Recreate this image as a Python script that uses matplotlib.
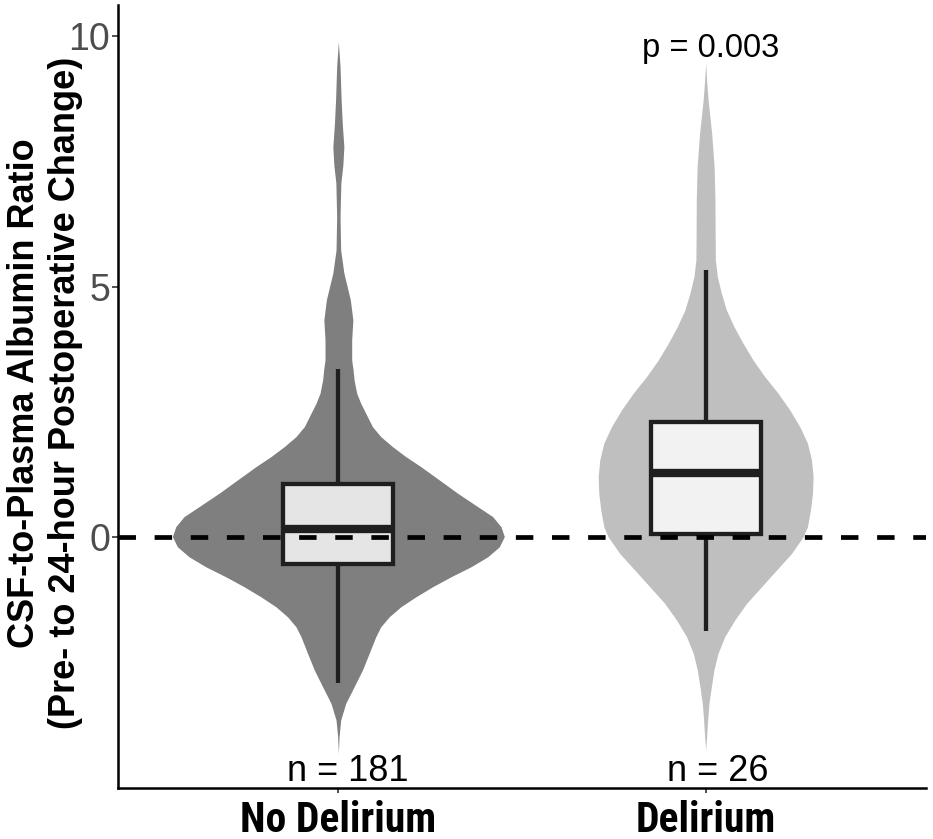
import matplotlib
matplotlib.use("Agg")
import matplotlib.pyplot as plt
import numpy as np

# ---------------- data ----------------
categories = ["No Delirium", "Delirium"]
n_labels = ["n = 181", "n = 26"]
p_label = "p = 0.003"
y_ticks = [0, 5, 10]

# box statistics
q1 = [-0.53, 0.06]
median = [0.17, 1.29]
q3 = [1.06, 2.30]
whisker_low = [-2.91, -1.88]
whisker_high = [3.36, 5.33]

# violin outlines: y value and half-width (in category-axis units)
violin1_y = [9.886, 9.388, 8.723, 8.225, 7.792, 7.427, 7.068, 6.389, 5.731, 5.272,
             4.734, 4.335, 3.936, 3.537, 3.337, 3.138, 2.873, 2.673, 2.474, 2.206,
             2.007, 1.807, 1.608, 1.408, 1.143, 0.878, 0.610, 0.411, 0.211, 0.012,
             -0.193, -0.393, -0.592, -0.792, -0.991, -1.191, -1.390, -1.590, -1.789,
             -1.989, -2.322, -2.653, -2.986, -3.319, -3.651, -3.984, -4.317]
violin1_hw = [0.0, 0.0046, 0.0076, 0.0109, 0.0150, 0.0123, 0.0068, 0.0046, 0.0063,
              0.0150, 0.0327, 0.0395, 0.0363, 0.0363, 0.0401, 0.0428, 0.0499, 0.0608,
              0.0744, 0.0927, 0.1154, 0.1473, 0.1835, 0.2244, 0.2746, 0.3245, 0.3791,
              0.4200, 0.4426, 0.4519, 0.4382, 0.4063, 0.3608, 0.3062, 0.2563, 0.2108,
              0.1699, 0.1383, 0.1154, 0.1017, 0.0837, 0.0654, 0.0428, 0.0199, 0.0063,
              0.0019, 0.0]

violin2_y = [9.461, 9.122, 8.723, 8.065, 7.387, 6.729, 6.070, 5.532, 5.198, 4.867,
             4.534, 4.201, 3.870, 3.537, 3.204, 2.873, 2.539, 2.206, 1.875, 1.542,
             1.209, 0.878, 0.545, 0.211, 0.006, -0.327, -0.658, -0.991, -1.325,
             -1.656, -1.989, -2.322, -2.653, -2.986, -3.319, -3.651, -3.984, -4.249]
violin2_hw = [0.0, 0.0027, 0.0068, 0.0164, 0.0232, 0.0254, 0.0259, 0.0265, 0.0319,
              0.0428, 0.0565, 0.0772, 0.1017, 0.1290, 0.1609, 0.1972, 0.2291, 0.2563,
              0.2773, 0.2882, 0.2926, 0.2910, 0.2855, 0.2773, 0.2653, 0.2337, 0.1928,
              0.1519, 0.1110, 0.0791, 0.0518, 0.0335, 0.0226, 0.0155, 0.0090, 0.0055,
              0.0027, 0.0]

violin_colors = ["#7f7f7f", "#bfbfbf"]
box_colors = ["#e5e5e5", "#f2f2f2"]
edge = "#1f1f1f"

# ---------------- figure ----------------
fig = plt.figure(figsize=(9.33, 8.39), dpi=100)
ax = fig.add_axes([0.12647, 0.06114, 0.86602, 0.93290])

positions = [1, 2]
violins = [(violin1_y, violin1_hw), (violin2_y, violin2_hw)]
for pos, (vy, vhw), col in zip(positions, violins, violin_colors):
    vy = np.asarray(vy)
    vhw = np.asarray(vhw)
    ax.fill_betweenx(vy, pos - vhw, pos + vhw, color=col, lw=0, zorder=1)

stats = []
for i in range(2):
    stats.append(dict(med=median[i], q1=q1[i], q3=q3[i],
                      whislo=whisker_low[i], whishi=whisker_high[i], fliers=[]))
bp = ax.bxp(stats, positions=positions, widths=0.3, patch_artist=True,
            showcaps=False, showfliers=False,
            boxprops=dict(linewidth=3.1, edgecolor=edge, joinstyle="miter"),
            medianprops=dict(linewidth=6.0, color=edge, solid_capstyle="butt"),
            whiskerprops=dict(linewidth=3.1, color=edge, solid_capstyle="butt"),
            zorder=2)
for patch, fc in zip(bp["boxes"], box_colors):
    patch.set_facecolor(fc)

ax.axhline(0, color="black", lw=3.4, linestyle=(0, (3.7, 3.95)), zorder=5)

ax.set_xlim(0.4, 2.6)
ax.set_ylim(-5.0, 10.62)
ax.set_yticks(y_ticks)
ax.set_yticklabels([str(t) for t in y_ticks], fontfamily="Liberation Sans",
                   fontsize=27, color="#4d4d4d")
ax.set_xticks(positions)
ax.set_xticklabels(categories, fontfamily="Roboto Condensed",
                   fontweight="bold", fontsize=30, color="black")
ax.tick_params(axis="y", length=4.3, width=1.2, color="#333333", pad=1.5)
ax.tick_params(axis="x", length=3.6, width=1.2, color="#333333", pad=5.0)

for s in ["top", "right"]:
    ax.spines[s].set_visible(False)
for s in ["left", "bottom"]:
    ax.spines[s].set_linewidth(1.8)
    ax.spines[s].set_color("black")

# n labels and p value
n_x = [1.025, 2.032]
for x, lab in zip(n_x, n_labels):
    ax.text(x, -4.876, lab, ha="center", va="baseline",
            fontfamily="Liberation Sans", fontsize=26, color="black")
ax.text(2.0145, 9.575, p_label, ha="center", va="baseline",
        fontfamily="Liberation Sans", fontsize=23.5, color="black")

fig.text(45 / 933, 1 - 393 / 839,
         "CSF-to-Plasma Albumin Ratio\n(Pre- to 24-hour Postoperative Change)",
         rotation=90, ha="center", va="center", multialignment="center",
         fontfamily="Liberation Sans", fontweight="bold", fontsize=26,
         linespacing=1.2, color="black")

fig.savefig("out.png", dpi=100)
